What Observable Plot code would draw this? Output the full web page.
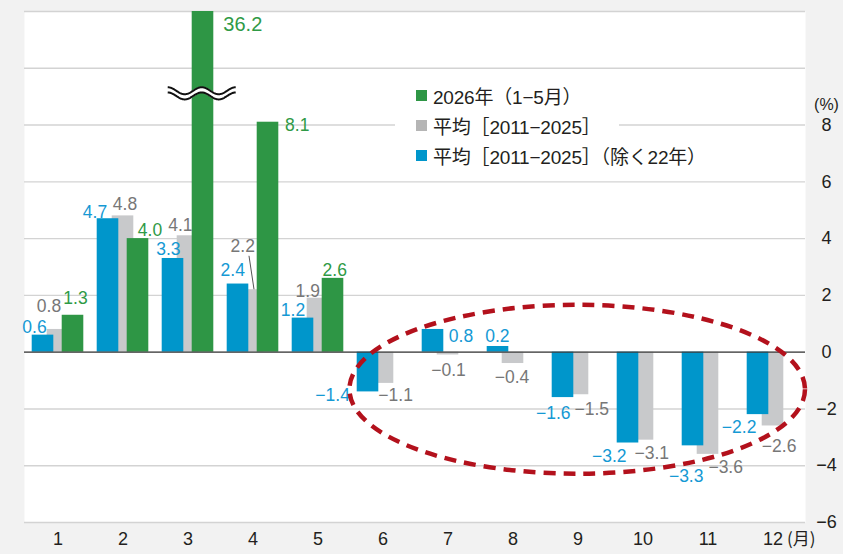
<!DOCTYPE html>
<html>
<head>
<meta charset="utf-8">
<script src="https://cdn.jsdelivr.net/npm/d3@7"></script>
<script src="https://cdn.jsdelivr.net/npm/@observablehq/plot@0.6"></script>
<style>
  html, body { margin: 0; padding: 0; background: #f2f2f2; }
  #wrap { position: relative; width: 843px; height: 554px; overflow: hidden; }
  #legend { position: absolute; left: 395px; top: 80px; font-family: "Liberation Sans", Arial, "Noto Sans CJK JP", sans-serif; font-size: 19px; color: #231f20; letter-spacing: -0.2px; }
  #legend .row { display: flex; align-items: center; height: 30px; }
  #legend .item { display: inline-flex; align-items: center; background: #fff; padding: 0 18px 0 21px; height: 26px; }
  #legend .sw { width: 11px; height: 11px; margin-right: 6px; flex: none; }
</style>
</head>
<body>
<div id="wrap"><div id="legend"></div></div>
<script>
// ---- data ----
const months = ["1","2","3","4","5","6","7","8","9","10","11","12"];
const blueValues  = [0.6, 4.7, 3.3, 2.4, 1.2, -1.4, 0.8, 0.2, -1.6, -3.2, -3.3, -2.2]; // 平均[2011-2025](除く22年)
const grayValues  = [0.8, 4.8, 4.1, 2.2, 1.9, -1.1, -0.1, -0.4, -1.5, -3.1, -3.6, -2.6]; // 平均[2011-2025]
const greenMonths = ["1","2","3","4","5"];
const greenValues = [1.3, 4.0, 36.2, 8.1, 2.6]; // 2026年(1-5月)
const seriesNames = ["2026年（1−5月）", "平均［2011−2025］", "平均［2011−2025］（除く22年）"];
const yTicks = [-6, -4, -2, 0, 2, 4, 6, 8];
const gridValues = [-6, -4, -2, 0, 2, 4, 6, 8, 10, 12];
const unitLabel = "(%)";
const monthUnit = "(月)";

// ---- layout / style ----
const C = { blue: "#0096cb", gray: "#c8c9cb", green: "#2e9645",
            blueText: "#1599d4", grayText: "#777777", greenText: "#2f9a46", legendGray: "#b5b5b5",
            ink: "#231f20" };
const numFont = '"Liberation Sans", Arial, sans-serif';
const cjkFont = '"Noto Sans CJK JP", "Noto Sans", sans-serif';
const barInset = 21.7, offset = 15;
const yMax = 12;
// label nudges (px) relative to the bar end
const blueNudge  = [[-8.5,-8],[-13,-6],[-4.7,-9],[-5.3,-14],[-10,-8],[-35.4,3.6],[28,6.5],[-0.6,-10.5],[-9.7,15.5],[-18.7,13],[-6.8,31],[-18.9,12.5]];
const grayNudge  = [[-9,-23],[2,-12],[-7.7,-10.5],[-10.3,-43],[-10.3,-7],[12.6,12],[0.5,15.5],[-1,13.5],[13.8,15],[8.8,13],[17.7,13.3],[6.1,20]];
const greenNudge = [[2.5,-16.4],[12,-8.4],[39.8,12.8],[29.2,3.3],[1.7,-8]];

const fmt = v => (v < 0 ? "−" : "") + Math.abs(v).toFixed(1);
const fmtTick = v => (v < 0 ? "−" : "") + Math.abs(v);

const blueRows  = months.map((m, i) => ({month: m, value: blueValues[i]}));
const grayRows  = months.map((m, i) => ({month: m, value: grayValues[i]}));
const greenRows = greenMonths.map((m, i) => ({month: m, value: greenValues[i]}));

function labelMarks(rows, nudges, seriesDx, color, big) {
  return rows.map((r, i) => Plot.text([r], {
    x: "month", y: d => Math.min(d.value, yMax), text: d => fmt(d.value),
    dx: seriesDx + nudges[i][0], dy: nudges[i][1],
    fill: color, fontSize: (big && r.value > yMax) ? 20 : 17.5,
    fontFamily: numFont, textAnchor: "middle"
  }));
}

const chart = Plot.plot({
  width: 843, height: 554,
  marginLeft: 24, marginRight: 38, marginTop: 11, marginBottom: 32,
  style: { background: "transparent", fontFamily: numFont, overflow: "visible" },
  x: { domain: months, padding: 0, axis: null },
  y: { domain: [-6, yMax], clamp: true, axis: null },
  marks: [
    Plot.frame({ fill: "white", stroke: null }),
    Plot.ruleY(gridValues, { stroke: "#d3d3d3", strokeWidth: 1.4 }),
    Plot.barY(grayRows,  { x: "month", y: "value", fill: C.gray,  insetLeft: barInset, insetRight: barInset }),
    Plot.barY(blueRows,  { x: "month", y: "value", fill: C.blue,  insetLeft: barInset, insetRight: barInset, dx: -offset }),
    Plot.barY(greenRows, { x: "month", y: "value", fill: C.green, insetLeft: barInset, insetRight: barInset, dx: offset }),
    Plot.ruleY([0], { stroke: "#3c3c3c", strokeWidth: 1.2 }),
    ...labelMarks(grayRows, grayNudge, 0, C.grayText, false),
    ...labelMarks(blueRows, blueNudge, -offset, C.blueText, false),
    ...labelMarks(greenRows, greenNudge, offset, C.greenText, true),
    // right y tick labels
    Plot.text(yTicks, { y: d => d, text: fmtTick, frameAnchor: "right", dx: 21, dy: 0, textAnchor: "middle",
                        fontSize: 18, fill: C.ink, fontFamily: numFont }),
    Plot.text([unitLabel], { frameAnchor: "top-right", dx: 21, dy: 87, textAnchor: "middle",
                        fontSize: 16, fill: C.ink, fontFamily: numFont }),
    // month labels
    Plot.text(months, { x: d => d, text: d => d, frameAnchor: "bottom", dy: 22, textAnchor: "middle",
                        fontSize: 18, fill: C.ink, fontFamily: numFont }),
    Plot.text([monthUnit], { x: () => months[months.length - 1], frameAnchor: "bottom", dy: 22, dx: 14,
                        textAnchor: "start", fontSize: 17, fill: C.ink, fontFamily: cjkFont,
                        letterSpacing: "5px" })
  ]
});

document.getElementById("wrap").prepend(chart);

// ---- annotations drawn with the chart's scales ----
const sx = chart.scale("x"), sy = chart.scale("y");
const xs = d3.scaleBand().domain(sx.domain).range(sx.range).padding(0);
const ys = d3.scaleLinear().domain(sy.domain).range(sy.range);
const bw = xs.bandwidth();
const svg = d3.select(chart);

// leader line for the April average label
{
  const cx = xs("4") + bw / 2, cy = ys(grayValues[3]);
  svg.append("line").attr("x1", cx - 2.8).attr("y1", cy - 33.4).attr("x2", cx + 2.2).attr("y2", cy)
    .attr("stroke", "#555").attr("stroke-width", 1);
}

// axis break on March 2026 bar
{
  const cx = xs("3") + bw / 2 + offset, cy = ys(9.1);
  const pts = d3.range(-34, 34.5, 0.5).map(t => [cx + t, cy + 3.5 * Math.sin(2 * Math.PI * (t + 34) / 34 - Math.PI / 2)]);
  const line = d3.line();
  const g = svg.append("g");
  g.append("path").attr("d", line(pts)).attr("fill", "none").attr("stroke", "white").attr("stroke-width", 6);
  g.append("path").attr("d", line(pts)).attr("transform", "translate(0,-2.6)").attr("fill", "none").attr("stroke", "#111").attr("stroke-width", 2);
  g.append("path").attr("d", line(pts)).attr("transform", "translate(0,2.6)").attr("fill", "none").attr("stroke", "#111").attr("stroke-width", 2);
}

// dashed ellipse highlighting Jun–Dec
{
  const x0 = xs("6"), x1 = xs("12") + bw;
  const yTop = ys(1.65), yBot = ys(-4.3);
  svg.append("ellipse")
    .attr("cx", (x0 + x1) / 2).attr("cy", (yTop + yBot) / 2)
    .attr("rx", (x1 - x0) / 2).attr("ry", (yBot - yTop) / 2)
    .attr("fill", "none").attr("stroke", "#b3111c").attr("stroke-width", 4.5)
    .attr("stroke-dasharray", "12 8");
}

// legend
const legendColors = [C.green, C.legendGray, C.blue];
const legend = document.getElementById("legend");
seriesNames.forEach((name, i) => {
  const row = document.createElement("div"); row.className = "row";
  const item = document.createElement("span"); item.className = "item";
  const sw = document.createElement("span"); sw.className = "sw"; sw.style.background = legendColors[i];
  const tx = document.createElement("span"); tx.textContent = name;
  item.append(sw, tx); row.append(item); legend.append(row);
});
</script>
</body>
</html>
